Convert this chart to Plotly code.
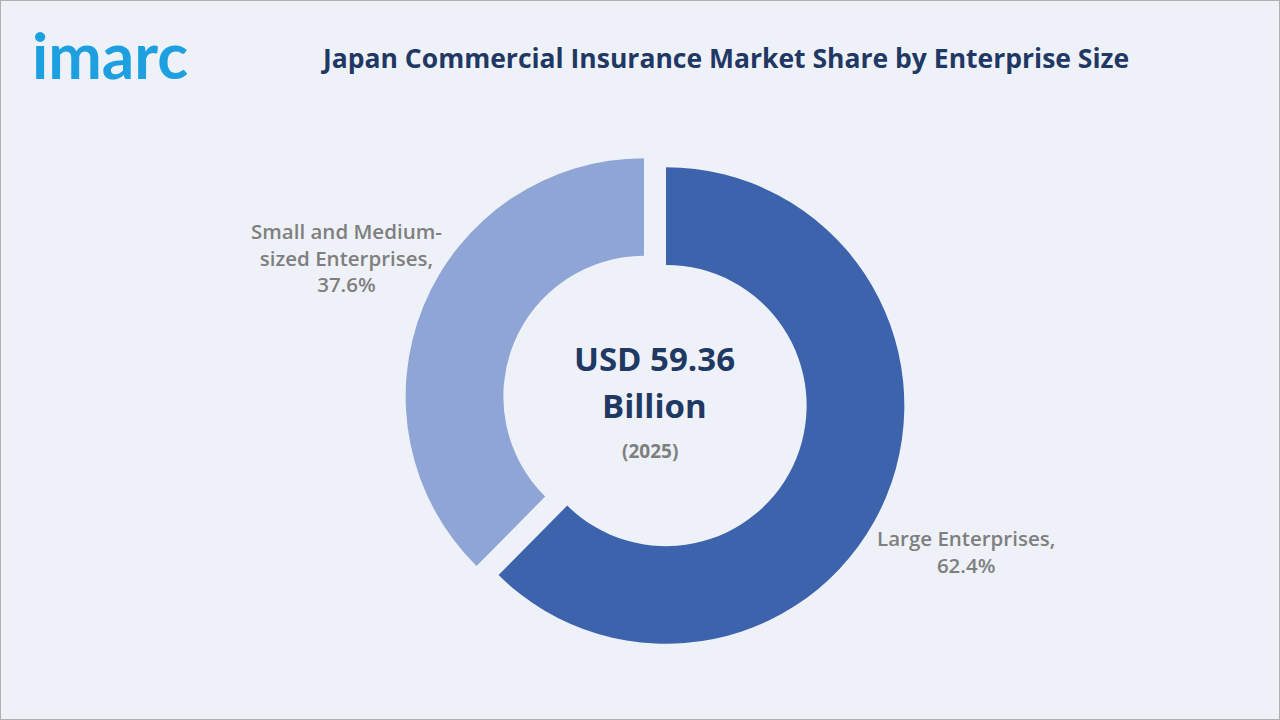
import plotly.graph_objects as go

labels = ["Large Enterprises", "Small and Medium-sized Enterprises"]
values = [62.4, 37.6]
colors = ["#3c63ac", "#8fa5d5"]

cx, cy = 655/1280, 1-401/720
hw, hh = 0.1955, 0.348
fig = go.Figure(go.Pie(
    labels=labels, values=values, hole=0.59, sort=False, direction="clockwise", rotation=0,
    marker=dict(colors=colors, line=dict(width=0)), pull=[0.05, 0.05],
    textinfo="none", hoverinfo="label+percent", showlegend=False,
    domain=dict(x=[cx-hw, cx+hw], y=[cy-hh, cy+hh])))

fnt = "Open Sans"
ann = [
    dict(x=654/1280, y=1-358/720, text="<b>USD 59.36</b>", font=dict(size=33, color="#1f3864", family=fnt)),
    dict(x=654/1280, y=1-405/720, text="<b>Billion</b>", font=dict(size=33, color="#1f3864", family=fnt)),
    dict(x=650/1280, y=1-451/720, text="<b>(2025)</b>", font=dict(size=19, color="#7f7f7f", family=fnt)),
    dict(x=346/1280, y=1-257/720, text="Small and Medium-<br>sized Enterprises,<br>" + f"{values[1]}%",
         font=dict(size=20.5, color="#7f7f7f", family=fnt, weight=600)),
    dict(x=966/1280, y=1-551/720, text=f"{labels[0]},<br>{values[0]}%",
         font=dict(size=20.5, color="#7f7f7f", family=fnt, weight=600)),
    dict(x=725/1280, y=1-58/720, text="<b>Japan Commercial Insurance Market Share by Enterprise Size</b>",
         font=dict(size=26.5, color="#1f3864", family=fnt)),
    dict(x=110/1280, y=1-55/720, text="<b>imarc</b>", font=dict(size=64, color="#1ea0e0", family="Lato")),
]
for a in ann:
    a.update(xref="paper", yref="paper", showarrow=False, xanchor="center", yanchor="middle")

fig.update_layout(width=1280, height=720, margin=dict(l=0, r=0, t=0, b=0),
                  paper_bgcolor="#eef2f8", plot_bgcolor="#eef2f8", annotations=ann,
                  shapes=[dict(type="rect", xref="paper", yref="paper", x0=0, y0=0, x1=1, y1=1,
                               line=dict(color="#b0b0b0", width=2))])
fig.write_html("out.html", config={"displayModeBar": False},
               post_script="document.body.style.margin='0';document.body.style.overflow='hidden';")
